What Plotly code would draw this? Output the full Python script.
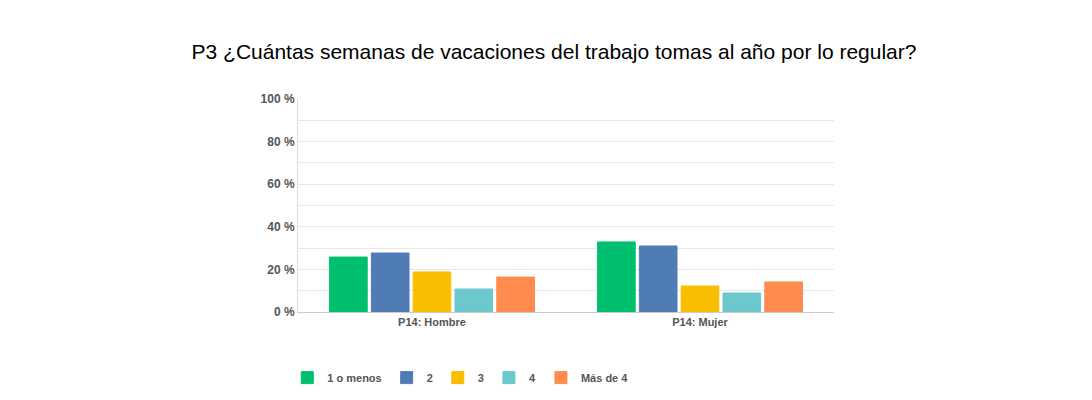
import plotly.graph_objects as go

categories = ["P14: Hombre", "P14: Mujer"]
series_names = ["1 o menos", "2", "3", "4", "Más de 4"]
v_1omenos = [25.8, 32.9]
v_2 = [27.7, 31.0]
v_3 = [18.8, 12.2]
v_4 = [10.8, 8.9]
v_mas4 = [16.4, 14.1]
colors = ["#00BF6F", "#507CB6", "#F9BE00", "#6BC8CD", "#FF8B4F"]

fig = go.Figure()
for name, vals, c in zip(series_names, [v_1omenos, v_2, v_3, v_4, v_mas4], colors):
    fig.add_bar(x=categories, y=vals, name=name, marker_color=c,
                marker_line_color=c, marker_line_width=1)

fig.update_layout(
    width=1092, height=400, plot_bgcolor="white", paper_bgcolor="white",
    margin=dict(l=290, r=266, t=91, b=96),
    barmode="group", bargap=0.22, bargroupgap=0.1,
    title=dict(text="P3 ¿Cuántas semanas de vacaciones del trabajo tomas al año por lo regular?",
               x=0.5, xanchor="center", y=0.89, yanchor="middle",
               font=dict(family="Arial, Liberation Sans", size=21, color="#000")),
    font=dict(family="Arial, Liberation Sans", size=11, color="#555"),
    legend=dict(orientation="h", x=-0.02, xanchor="left", y=-0.24, yanchor="top",
                font=dict(size=11, color="#555", weight="bold"), itemwidth=30, traceorder="normal"),
    yaxis=dict(range=[0, 100], gridcolor="#e8e8e8",
               showline=True, linecolor="#ddd",
               tickvals=[0, 10, 20, 30, 40, 50, 60, 70, 80, 90, 100],
               ticktext=["0 %", "", "20 %", "", "40 %", "", "60 %", "", "80 %", "", "100 %"],
               tickfont=dict(size=12, color="#555", weight="bold"),
               zeroline=False),
    xaxis=dict(showline=True, linecolor="#ccc", tickfont=dict(size=11, color="#555", weight="bold")),
)
fig.write_html("out.html")
